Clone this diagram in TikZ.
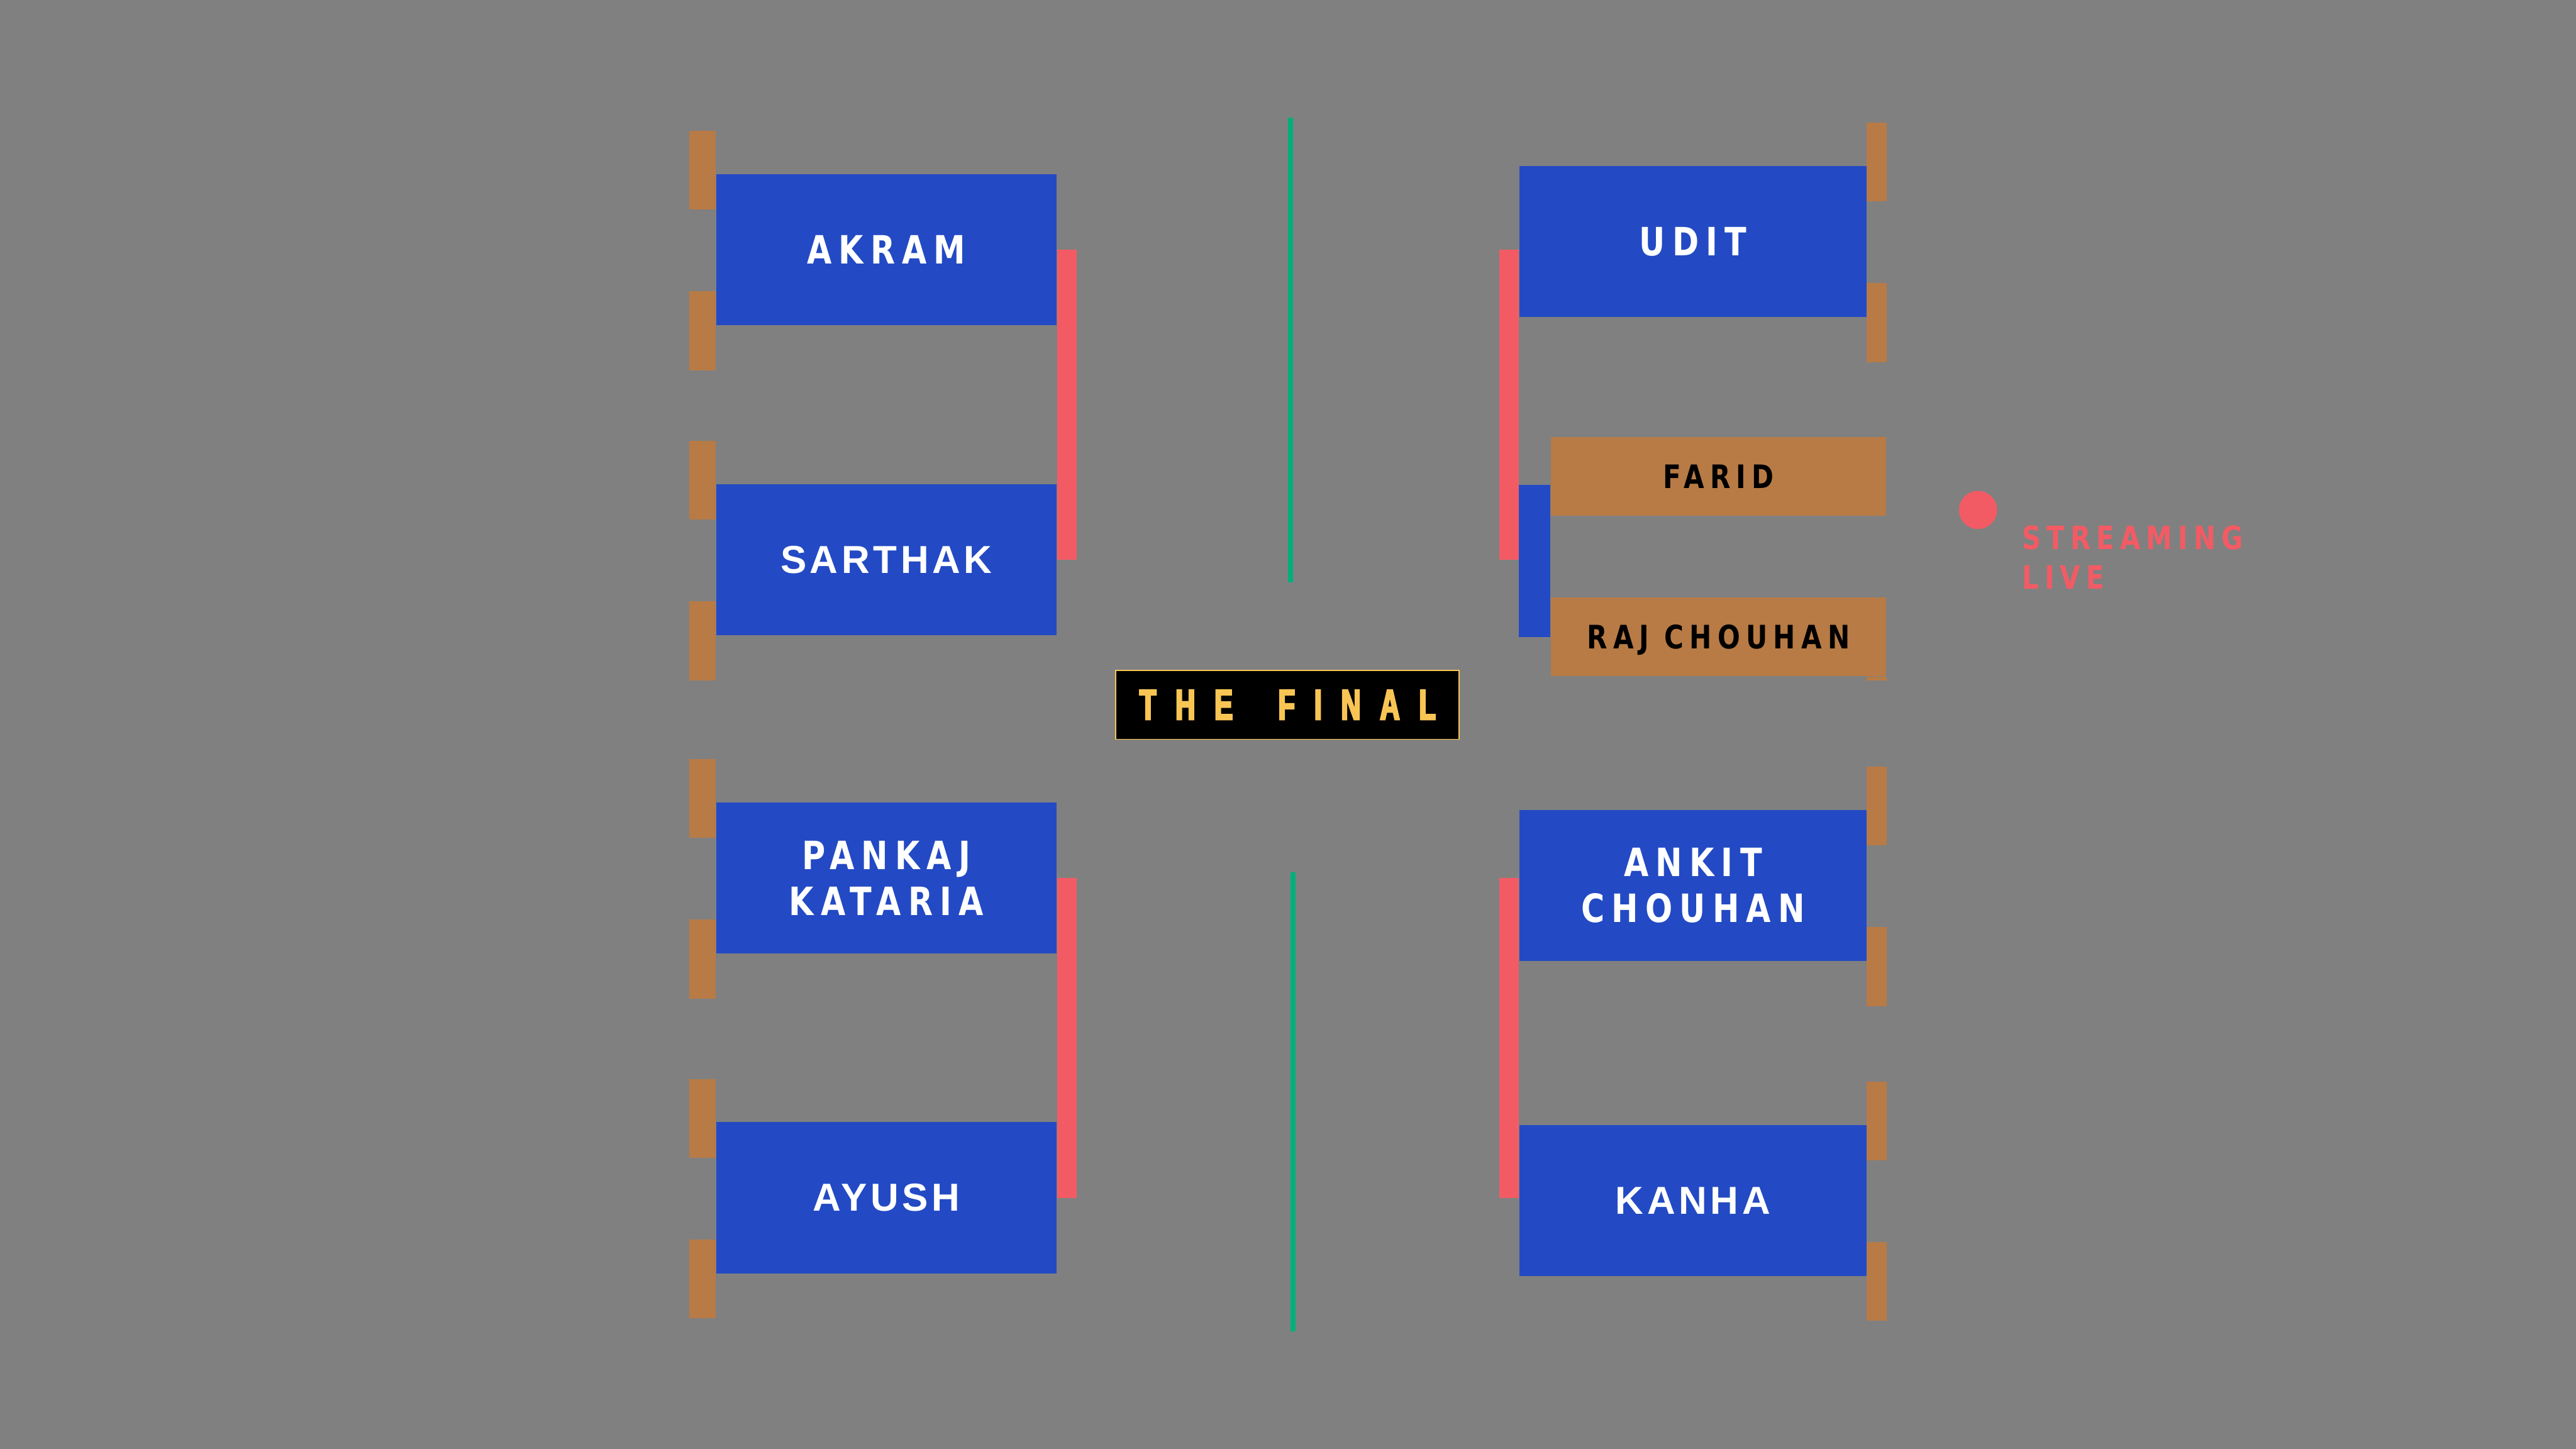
\documentclass[tikz,border=0pt]{standalone}
\usepackage{fontspec}
\usepackage{tikz}
\usetikzlibrary{positioning}

\newfontfamily\widefont[LetterSpace=9]{Liberation Sans}
\newfontfamily\dinfont[FakeStretch=0.82,LetterSpace=18]{DejaVu Sans}
\newfontfamily\finalfont[FakeStretch=0.64,FakeBold=4,LetterSpace=45]{Liberation Sans}

\definecolor{bggray}{HTML}{808080}
\definecolor{teamblue}{HTML}{234AC4}
\definecolor{tabbrown}{HTML}{B87B45}
\definecolor{barred}{HTML}{F35B64}
\definecolor{goalgreen}{HTML}{00B07A}
\definecolor{finalgold}{HTML}{F8C555}

\begin{document}
\begin{tikzpicture}[
  x=0.2mm, y=-0.2mm,
  player/.style={rectangle, fill=teamblue, text=white, align=center,
                 minimum width=41.4mm, minimum height=18.4mm,
                 inner sep=0pt},
  wide/.style={font=\widefont\bfseries\fontsize{13.5}{15.9}\selectfont},
  din/.style={font=\dinfont\bfseries\fontsize{13.5}{15.9}\selectfont},
  semi/.style={rectangle, fill=tabbrown, text=black,
               minimum width=40.8mm, minimum height=9.6mm,
               inner sep=0pt, text depth=0pt,
               font=\dinfont\bfseries\fontsize{11.2}{13}\selectfont},
  finalbox/.style={rectangle, fill=black, draw=finalgold, line width=0.4pt,
                   minimum width=41.8mm, minimum height=8.4mm, inner sep=0pt},
  finaltext/.style={text=finalgold, inner sep=0pt,
                    font=\finalfont\bfseries\fontsize{14.8}{16}\selectfont},
  dot/.style={circle, fill=barred, minimum size=4.64mm, inner sep=0pt},
  livetext/.style={text=barred, align=left, inner sep=0pt,
                   font=\dinfont\bfseries\fontsize{11.1}{13.6}\selectfont},
  ltab/.style={tabbrown, line width=3.2mm},
  rtab/.style={tabbrown, line width=2.4mm},
  link/.style={barred, line width=2.4mm},
  goal/.style={goalgreen, line width=0.66mm}
]
\fill[bggray] (0,0) rectangle (1568,882);

% left half
\node[player, din] (akram) at (539.5,152) {AKRAM};
\node[player, wide, below=19.2mm of akram] (sarthak) {SARTHAK};
\node[player, din, below=20.2mm of sarthak] (pankaj) {PANKAJ\\KATARIA};
\node[player, wide, below=20.4mm of pankaj] (ayush) {AYUSH};

\draw[ltab] ([xshift=-1.6mm,yshift=5.2mm]akram.north west) -- ++(0,-9.6mm);
\draw[ltab] ([xshift=-1.6mm,yshift=4.2mm]akram.south west) -- ++(0,-9.6mm);
\draw[ltab] ([xshift=-1.6mm,yshift=5.2mm]sarthak.north west) -- ++(0,-9.6mm);
\draw[ltab] ([xshift=-1.6mm,yshift=4.2mm]sarthak.south west) -- ++(0,-9.6mm);
\draw[ltab] ([xshift=-1.6mm,yshift=5.2mm]pankaj.north west) -- ++(0,-9.6mm);
\draw[ltab] ([xshift=-1.6mm,yshift=4.2mm]pankaj.south west) -- ++(0,-9.6mm);
\draw[ltab] ([xshift=-1.6mm,yshift=5.2mm]ayush.north west) -- ++(0,-9.6mm);
\draw[ltab] ([xshift=-1.6mm,yshift=4.2mm]ayush.south west) -- ++(0,-9.6mm);

\draw[link] ([xshift=1.2mm]akram.east) -- ([xshift=1.2mm]sarthak.east);
\draw[link] ([xshift=1.2mm]pankaj.east) -- ([xshift=1.2mm]ayush.east);

% right half
\node[player, din, minimum width=42.2mm] (udit) at (1030.5,147) {UDIT};
\node[semi] (farid) at (1046,290) {FARID};
\node[semi, below=9.8mm of farid] (raj) {RAJ CHOUHAN};
\node[player, din, minimum width=42.2mm] (ankit) at (1030.5,539) {ANKIT\\CHOUHAN};
\node[player, wide, minimum width=42.2mm, below=19.8mm of ankit] (kanha) {KANHA};

\draw[rtab] ([xshift=1.2mm,yshift=5.2mm]udit.north east) -- ++(0,-9.6mm);
\draw[rtab] ([xshift=1.2mm,yshift=4.2mm]udit.south east) -- ++(0,-9.6mm);
\draw[rtab] ([xshift=-1.2mm]raj.south east) -- ++(0,-0.4mm);
\draw[rtab] ([xshift=1.2mm,yshift=5.2mm]ankit.north east) -- ++(0,-9.6mm);
\draw[rtab] ([xshift=1.2mm,yshift=4.2mm]ankit.south east) -- ++(0,-9.6mm);
\draw[rtab] ([xshift=1.2mm,yshift=5.2mm]kanha.north east) -- ++(0,-9.6mm);
\draw[rtab] ([xshift=1.2mm,yshift=4.2mm]kanha.south east) -- ++(0,-9.6mm);

\draw[teamblue, line width=3.8mm] ([xshift=-1.9mm,yshift=-1mm]farid.west)
  -- ([xshift=-1.9mm]raj.west);
\draw[link] ([xshift=-1.2mm]udit.west |- akram.east)
  -- ([xshift=-1.2mm]udit.west |- sarthak.east);
\draw[link] ([xshift=-1.2mm]ankit.west |- pankaj.east)
  -- ([xshift=-1.2mm]ankit.west |- ayush.east);

% centre
\node[finalbox] (final) at (783.5,429) {};
\node[finaltext] (finalthe) at (722,429) {THE};
\node[finaltext] (finalword) at (826,429) {FINAL};
\coordinate (goalA) at (785.5,71.5);
\coordinate (goalB) at (785.5,354.5);
\coordinate (goalC) at (787,531);
\coordinate (goalD) at (787,810.5);
\draw[goal] (goalA) -- (goalB);
\draw[goal] (goalC) -- (goalD);

% live badge
\node[dot] (live) at (1204,310.4) {};
\node[livetext, anchor=north west] (livetxt) at (1230.5,319.6) {STREAMING\\LIVE};
\end{tikzpicture}
\end{document}
